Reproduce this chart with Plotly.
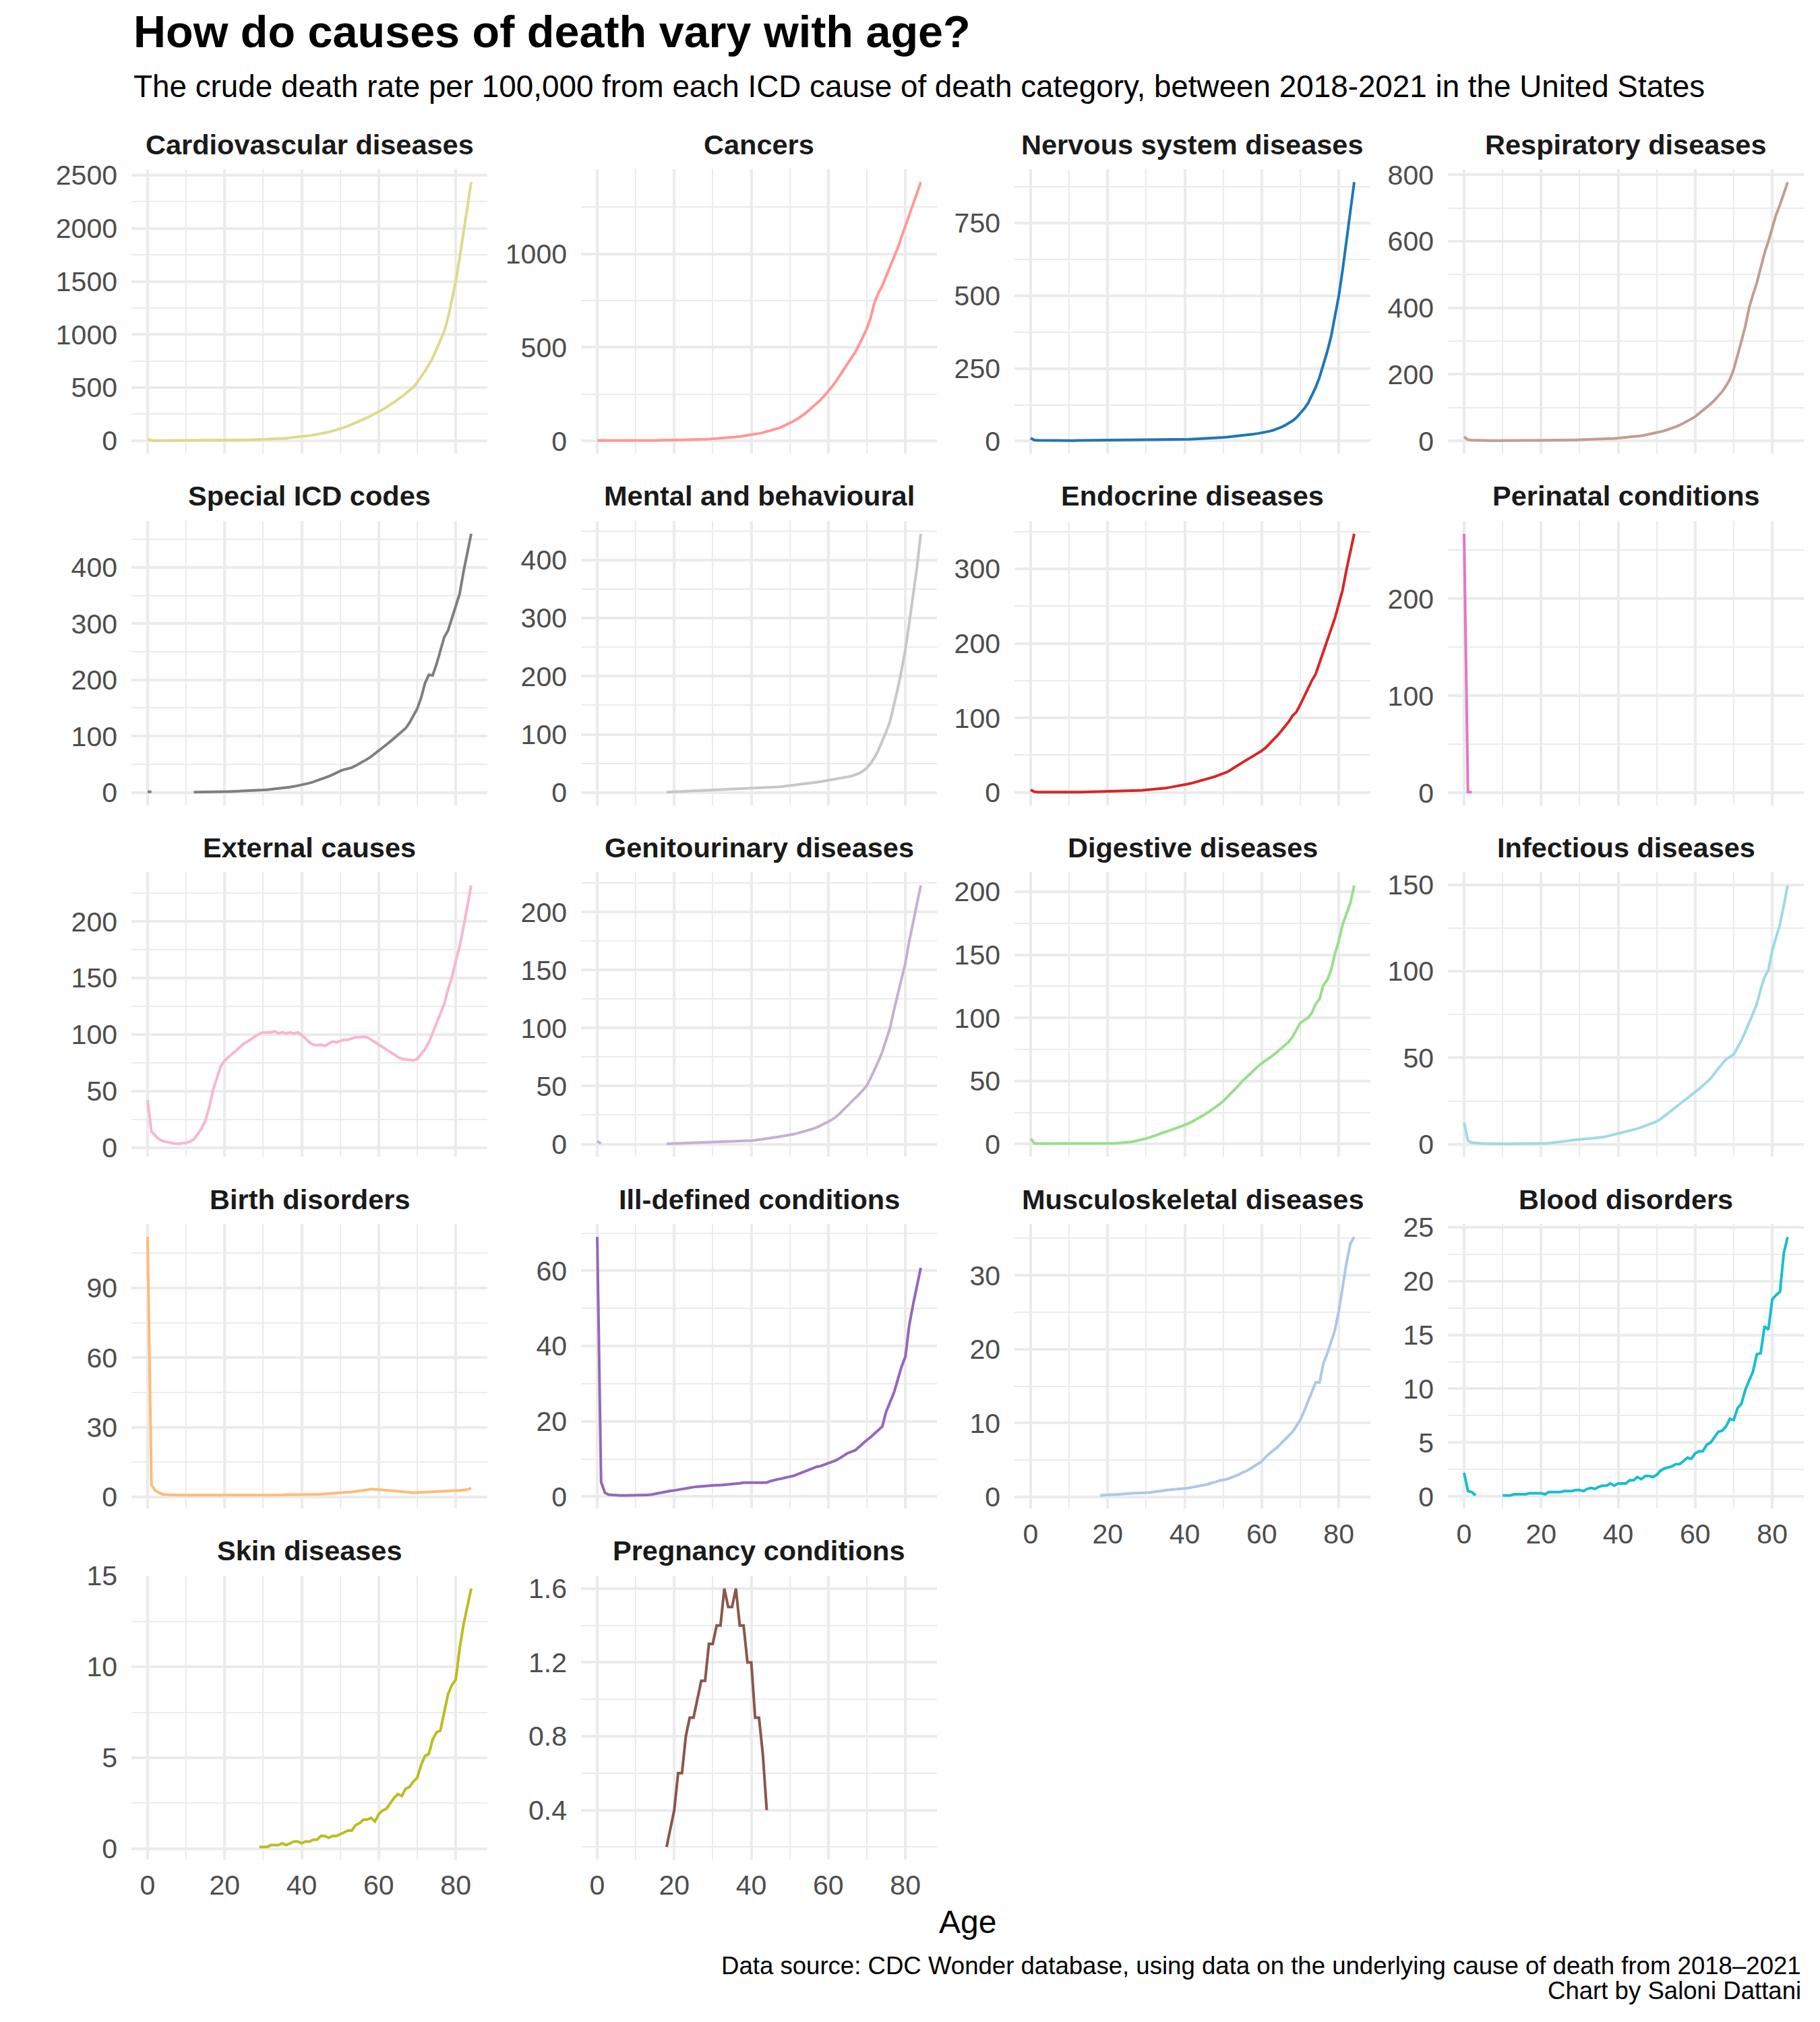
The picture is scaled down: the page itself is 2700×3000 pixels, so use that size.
import plotly.graph_objects as go

# ---------------- data ----------------
AGES = list(range(85))

CAUSES = [
    "Cardiovascular diseases", "Cancers", "Nervous system diseases", "Respiratory diseases",
    "Special ICD codes", "Mental and behavioural", "Endocrine diseases", "Perinatal conditions",
    "External causes", "Genitourinary diseases", "Digestive diseases", "Infectious diseases",
    "Birth disorders", "Ill-defined conditions", "Musculoskeletal diseases", "Blood disorders",
    "Skin diseases", "Pregnancy conditions",
]

CARDIOVASCULAR = [15, 2, 1, 1, 0.8, 0.7, 0.6, 0.6, 0.6, 0.6, 0.7, 0.8, 0.9, 1.1, 1.3, 1.6, 1.9, 2.2, 2.6, 3.0,
                  3.4, 3.9, 4.4, 5.0, 5.6, 6.3, 7.2, 8.1, 9.1, 10.3, 11.6, 13.0, 14.6, 16.4, 18.5, 20.8, 23.4, 26.3, 29.5, 33,
                  37, 42, 47, 53, 59, 66, 73, 81, 91, 101, 113, 125, 138, 153, 168, 184, 200, 217, 235, 253,
                  272, 293, 315, 338, 362, 388, 415, 443, 472, 505, 550, 600, 655, 715, 780, 860, 950, 1030, 1160, 1320,
                  1500, 1720, 1950, 2190, 2435]
CANCERS = [2.5, 2.3, 2.4, 2.5, 2.4, 2.3, 2.2, 2.1, 2.0, 2.0, 2.1, 2.2, 2.3, 2.5, 2.7, 3.0, 3.2, 3.4, 3.7, 3.9,
           4.2, 4.5, 4.9, 5.3, 5.8, 6.4, 7.1, 7.9, 8.8, 9.8, 11, 12.3, 13.8, 15.4, 17.2, 19.2, 21.3, 23.7, 26.3, 29.2,
           32.5, 36, 40, 44.5, 49.5, 55, 61, 68, 76, 85, 95, 106, 118, 132, 147, 165, 183, 201, 220, 242,
           265, 292, 320, 350, 380, 410, 440, 475, 515, 555, 600, 660, 740, 790, 830, 880, 930, 980, 1030, 1090,
           1150, 1200, 1260, 1320, 1383]
NERVOUS = [10, 3.5, 2.5, 2.2, 2.0, 1.9, 1.8, 1.7, 1.7, 1.7, 1.7, 1.8, 1.9, 2.0, 2.1, 2.2, 2.3, 2.4, 2.5, 2.5,
           2.6, 2.6, 2.7, 2.7, 2.8, 2.9, 3.0, 3.1, 3.2, 3.3, 3.5, 3.6, 3.8, 4.0, 4.2, 4.4, 4.6, 4.9, 5.2, 5.5,
           5.9, 6.3, 6.8, 7.3, 7.9, 8.5, 9.2, 10, 10.8, 11.7, 12.7, 13.8, 15, 16.3, 17.7, 19.2, 20.8, 22.5, 24.3, 26.2,
           28.3, 30.8, 33.8, 37.5, 42, 47.5, 54, 61.5, 70, 81, 95, 111, 130, 155, 185, 220, 262, 308, 360, 425,
           500, 590, 690, 790, 891]
RESPIRATORY = [12, 3.5, 2.2, 1.6, 1.3, 1.1, 1.0, 0.9, 0.9, 0.9, 0.9, 0.9, 1.0, 1.0, 1.1, 1.1, 1.2, 1.2, 1.3, 1.3,
               1.4, 1.5, 1.6, 1.7, 1.8, 2.0, 2.2, 2.4, 2.6, 2.8, 3.1, 3.4, 3.7, 4.1, 4.5, 5.0, 5.5, 6.1, 6.8, 7.5,
               8.3, 9.2, 10.2, 11.3, 12.6, 14, 15.7, 17.6, 19.7, 22, 24.6, 27.5, 30.7, 34.2, 38, 42.5, 47.5, 53, 59.5, 66,
               73, 82, 92, 101, 111, 122, 134, 148, 165, 185, 215, 255, 300, 345, 400, 440, 475, 520, 565, 600,
               640, 680, 710, 745, 778]
SPECIAL_ICD = [1, 1, None, None, None, None, None, None, None, None, None, None, 0.3, 0.3, 0.4, 0.5, 0.6, 0.7, 0.9, 1.0,
               1.2, 1.4, 1.6, 1.8, 2.0, 2.3, 2.6, 2.9, 3.3, 3.7, 4.2, 4.7, 5.3, 6.0, 6.7, 7.5, 8.4, 9.4, 10.5, 11.8,
               13.2, 14.8, 16.5, 18.5, 20.8, 23.2, 25.5, 28.5, 31.5, 35, 38, 40.5, 42.5, 44, 47.5, 51, 55, 59, 63.5, 68.5,
               74, 79.5, 85, 90.5, 96, 102, 108, 114, 124, 136, 149, 168, 194, 209, 208, 228, 254, 276, 288, 310,
               331, 353, 392, 426, 460]
MENTAL = [None] * 18 + [0.5, 0.8,
          1.0, 1.3, 1.6, 1.9, 2.2, 2.5, 2.8, 3.1, 3.4, 3.8, 4.2, 4.5, 4.8, 5.1, 5.3, 5.5, 5.7, 5.8, 6.0, 6.1,
          6.3, 6.6, 6.9, 7.3, 7.8, 8.3, 8.9, 9.5, 10.2, 10.9, 11.7, 12.4, 13.2, 14.0, 14.9, 15.8, 16.7, 17.6, 18.6, 19.6,
          20.7, 21.8, 23.0, 24.2, 25.5, 26.8, 28.2, 30, 33, 37, 42, 50, 60, 73, 88, 104, 122, 148, 178, 210,
          246, 291, 337, 387, 445]
ENDOCRINE = [3.5, 1.0, 0.6, 0.5, 0.4, 0.4, 0.4, 0.4, 0.4, 0.4, 0.4, 0.4, 0.5, 0.5, 0.6, 0.6, 0.7, 0.8, 0.9, 1.0,
             1.1, 1.2, 1.3, 1.5, 1.7, 1.9, 2.1, 2.4, 2.7, 3.0, 3.4, 3.8, 4.3, 4.8, 5.4, 6.0, 6.7, 7.5, 8.4, 9.4,
             10.5, 11.6, 12.8, 14.1, 15.5, 17, 18.5, 20, 21.7, 23.4, 25.2, 27.5, 30.5, 34, 37, 40.5, 43.5, 46.5, 49.5, 52.5,
             56, 60, 65, 70, 76, 82, 88, 95, 103, 108, 118, 129, 140, 150, 159, 173, 189, 204, 219, 234,
             253, 272, 299, 322, 347]
PERINATAL = [267, 0.8, 0.8] + [None] * 82
EXTERNAL = [42, 14, 10.6, 7.4, 5.7, 4.9, 4.0, 3.6, 3.4, 3.6, 4.2, 5.3, 7.4, 11.7, 17, 24, 36, 51, 62, 72,
            77, 80, 83, 86, 89, 92, 94, 96.5, 98.6, 100.7, 101.8, 102, 102, 103, 101, 102, 101, 102, 101, 102,
            99.7, 96.5, 93, 91, 90.6, 91, 90, 92, 94, 93, 94, 95.4, 95.4, 96.5, 97.6, 97.6, 98, 97.6, 95.4, 93,
            90.8, 89, 87, 84.8, 82.7, 80.2, 78.5, 78, 77.4, 77, 78.5, 82.7, 87, 93, 101.8, 110, 118.8, 127, 140, 150.6,
            165, 178, 195, 212, 232]
GENITOURINARY = [2.5, 0.5] + [None] * 16 + [0.3, 0.4,
                 0.5, 0.6, 0.7, 0.8, 0.9, 1.0, 1.1, 1.2, 1.4, 1.5, 1.7, 1.8, 1.9, 2.0, 2.2, 2.3, 2.4, 2.6, 2.8, 2.9,
                 3.1, 3.4, 3.8, 4.2, 4.7, 5.2, 5.7, 6.2, 6.8, 7.3, 7.9, 8.6, 9.4, 10.2, 11.1, 12, 13.2, 14.5, 16, 17.6,
                 19.3, 21.3, 23.4, 26.5, 29.7, 32.8, 36, 39.5, 43, 46.5, 50.4, 57, 64, 71.5, 79.5, 89, 100, 115, 129, 144,
                 156, 175, 191.5, 206, 223]
DIGESTIVE = [4.4, 0.6, 0.3, 0.3, 0.2, 0.2, 0.2, 0.2, 0.2, 0.2, 0.2, 0.2, 0.2, 0.2, 0.2, 0.3, 0.3, 0.3, 0.3, 0.4,
             0.4, 0.5, 0.6, 0.8, 1.0, 1.3, 1.7, 2.2, 2.8, 3.5, 4.4, 5.3, 6.3, 7.3, 8.4, 9.5, 10.6, 11.7, 12.8, 13.9,
             15, 16.4, 17.9, 19.5, 21.2, 23, 25, 27, 29.2, 31.5, 34, 37, 40, 43, 46.5, 50, 53, 56, 59, 61.5,
             64, 66, 68, 70.5, 73, 75.5, 78, 81, 85, 90, 96, 98, 100, 104, 111, 115, 126, 130, 138, 151,
             161, 174, 183, 191, 205]
INFECTIOUS = [12.5, 2.0, 1.0, 0.7, 0.5, 0.4, 0.4, 0.3, 0.3, 0.3, 0.3, 0.3, 0.3, 0.3, 0.3, 0.3, 0.3, 0.3, 0.3, 0.3,
              0.4, 0.5, 0.7, 0.9, 1.1, 1.4, 1.7, 2.0, 2.3, 2.6, 2.8, 3.0, 3.2, 3.4, 3.6, 3.8, 4.2, 4.6, 5.1, 5.6,
              6.2, 6.7, 7.2, 7.8, 8.4, 9.0, 9.8, 10.6, 11.4, 12.3, 13.2, 14.6, 16.2, 18, 19.7, 21.5, 23.2, 25, 26.7, 28.4,
              30, 32, 34, 36, 38, 41, 44, 46.5, 49, 50.5, 52, 56, 60, 65, 70, 75.5, 81, 89.6, 96.5, 100.7,
              112, 120, 127, 138, 149.6]
BIRTH = [112, 5.2, 2.8, 1.8, 1.2, 1.0, 0.9, 0.9, 0.8, 0.8, 0.8, 0.8, 0.8, 0.8, 0.8, 0.9, 0.8, 0.9, 0.8, 0.7,
         0.9, 0.8, 0.9, 0.7, 0.9, 0.8, 0.9, 0.8, 0.8, 0.9, 0.9, 0.8, 0.9, 0.9, 0.9, 0.9, 1.0, 0.9, 1.0, 1.0,
         1.0, 1.0, 1.1, 1.1, 1.2, 1.2, 1.3, 1.4, 1.5, 1.6, 1.8, 2.0, 2.1, 2.2, 2.4, 2.6, 2.7, 3.1, 3.4, 3.3,
         3.1, 3.2, 2.9, 2.8, 2.6, 2.4, 2.2, 2.0, 1.8, 1.8, 1.9, 2.0, 2.0, 2.2, 2.4, 2.5, 2.6, 2.5, 2.6, 2.7,
         2.8, 2.8, 2.9, 3.2, 3.8]
ILL_DEFINED = [69, 3.9, 1.0, 0.5, 0.4, 0.3, 0.3, 0.3, 0.3, 0.3, 0.3, 0.3, 0.3, 0.4, 0.5, 0.7, 0.9, 1.2, 1.4, 1.5,
               1.6, 1.8, 2.0, 2.2, 2.3, 2.5, 2.6, 2.7, 2.8, 2.9, 2.9, 3.0, 3.0, 3.1, 3.1, 3.2, 3.3, 3.5, 3.7, 3.7,
               3.7, 3.7, 3.6, 3.7, 3.7, 4.1, 4.4, 4.6, 4.8, 5.0, 5.2, 5.5, 5.9, 6.3, 6.7, 7.1, 7.5, 7.9, 8.1, 8.5,
               8.8, 9.2, 9.6, 10.2, 10.9, 11.5, 11.9, 12.3, 13.2, 14.2, 15, 15.8, 16.7, 17.8, 18.6, 22.5, 25, 27.5, 31, 34.5,
               37.2, 45.5, 51, 56, 60.8]
MUSCULOSKELETAL = [None] * 18 + [0.2, 0.25,
                   0.25, 0.3, 0.3, 0.35, 0.4, 0.4, 0.45, 0.5, 0.5, 0.5, 0.55, 0.6, 0.65, 0.7, 0.8, 0.9, 0.95, 1.0, 1.05, 1.1,
                   1.1, 1.2, 1.3, 1.4, 1.5, 1.6, 1.7, 1.9, 2.0, 2.2, 2.3, 2.4, 2.6, 2.8, 3.0, 3.3, 3.5, 3.8, 4.1, 4.5,
                   4.8, 5.4, 5.9, 6.3, 6.7, 7.2, 7.7, 8.2, 8.8, 9.6, 10.4, 11.6, 12.9, 14.2, 15.5, 15.5, 18.1, 19.4, 21, 22.6,
                   25.2, 28.5, 31.7, 34.3, 35.2]
BLOOD = [2.2, 0.5, 0.4, 0.1, None, None, None, None, None, None, 0.1, 0.1, 0.1, 0.2, 0.2, 0.2, 0.2, 0.3, 0.3, 0.3,
         0.3, 0.2, 0.4, 0.4, 0.4, 0.4, 0.5, 0.5, 0.5, 0.6, 0.6, 0.5, 0.7, 0.8, 0.7, 0.9, 1.0, 1.0, 1.2, 1.0,
         1.2, 1.2, 1.2, 1.5, 1.5, 1.8, 1.6, 1.9, 1.9, 1.8, 2.0, 2.4, 2.6, 2.7, 2.8, 3.0, 3.0, 3.3, 3.6, 3.5,
         4.0, 4.2, 4.2, 4.8, 5.0, 5.5, 6.0, 6.1, 6.5, 7.2, 7.1, 8.2, 8.6, 9.9, 10.8, 11.6, 13.2, 13.3, 15.8, 15.5,
         18.3, 18.7, 19.0, 22.6, 24.1]
SKIN = [None] * 29 + [0.1,
        0.1, 0.1, 0.2, 0.2, 0.2, 0.3, 0.2, 0.3, 0.4, 0.4,
        0.3, 0.4, 0.4, 0.5, 0.5, 0.7, 0.7, 0.6, 0.7, 0.7, 0.8, 0.9, 1.0, 1.0, 1.3, 1.4, 1.6, 1.6, 1.7, 1.5,
        1.9, 2.1, 2.2, 2.5, 2.8, 3.0, 2.9, 3.3, 3.4, 3.7, 3.9, 4.6, 5.1, 5.2, 6.0, 6.4, 6.5, 7.5, 8.5, 9.0,
        9.3, 11.0, 12.3, 13.3, 14.3]
PREGNANCY = [None] * 18 + [0.2, 0.3,
             0.4, 0.6, 0.6, 0.8, 0.9, 0.9, 1.0, 1.1, 1.1, 1.3, 1.3, 1.4, 1.4, 1.6, 1.5, 1.5, 1.6, 1.4, 1.4, 1.2,
             1.2, 0.9, 0.9, 0.7, 0.4] + [None] * 40

SERIES = [CARDIOVASCULAR, CANCERS, NERVOUS, RESPIRATORY, SPECIAL_ICD, MENTAL, ENDOCRINE, PERINATAL,
          EXTERNAL, GENITOURINARY, DIGESTIVE, INFECTIOUS, BIRTH, ILL_DEFINED, MUSCULOSKELETAL, BLOOD,
          SKIN, PREGNANCY]

X_TICK_STEP, X_MINOR_STEP = 20, 10
Y_TICK_STEP = [500, 500, 250, 200, 100, 100, 100, 100, 50, 50, 50, 50, 30, 20, 10, 5, 5, 0.4]

TITLE = "How do causes of death vary with age?"
SUBTITLE = ("The crude death rate per 100,000 from each ICD cause of death category, "
            "between 2018-2021 in the United States")
X_TITLE = "Age"
CAPTION_1 = "Data source: CDC Wonder database, using data on the underlying cause of death from 2018\u20132021"
CAPTION_2 = "Chart by Saloni Dattani"

# ---------------- styles ----------------
COLORS = ["#dbdb8d", "#ff9896", "#1f77b4", "#c49c94", "#7f7f7f", "#c7c7c7", "#d62728", "#e377c2",
          "#f7b6d2", "#c5b0d5", "#98df8a", "#9edae5", "#ffbb78", "#9467bd", "#aec7e8", "#17becf",
          "#bcbd22", "#8c564b"]

W, H = 2700, 3000
FONT = "Liberation Sans, Arial, Helvetica, sans-serif"
COL_LEFT = [195, 862, 1505, 2148]
PANEL_W = 528
ROW_TOP = [251, 773, 1295, 1817, 2339]
PANEL_H = 422
GRID = "#ebebeb"
TICK_COLOR = "#4d4d4d"
TICK_SIZE = 41
LINE_W = 4

# page offset compensation (measured in the rendered output)
X_SHIFT = 8
Y_SHIFT, Y_SCALE = 30, 0.99


def px_x(p):
    return (p - X_SHIFT) / W


def px_y(p):
    return 1 - (p / Y_SCALE - Y_SHIFT) / H


def padded(vals):
    v = [a for a in vals if a is not None]
    lo, hi = min(v), max(v)
    pad = 0.05 * (hi - lo)
    return [lo - pad, hi + pad]


fig = go.Figure()
annotations = []
x_range = padded(AGES)
bottom_panels = {14, 15, 16, 17}

for i, (name, vals, color) in enumerate(zip(CAUSES, SERIES, COLORS)):
    r, c = divmod(i, 4)
    n = i + 1
    xs = "x" if n == 1 else f"x{n}"
    ys = "y" if n == 1 else f"y{n}"
    fig.add_trace(go.Scatter(x=AGES, y=vals, mode="lines", xaxis=xs, yaxis=ys,
                             line=dict(color=color, width=LINE_W), connectgaps=False,
                             showlegend=False, hoverinfo="skip"))
    left = COL_LEFT[c]
    top = ROW_TOP[r]
    step = Y_TICK_STEP[i]
    xa = dict(domain=[px_x(left), px_x(left + PANEL_W)], anchor=ys, range=x_range,
              tick0=0, dtick=X_TICK_STEP, showgrid=True, gridcolor=GRID, gridwidth=3.5,
              zeroline=False, showline=False, ticks="",
              showticklabels=(i in bottom_panels), ticklabelstandoff=10,
              tickfont=dict(family=FONT, size=TICK_SIZE, color=TICK_COLOR),
              minor=dict(tick0=0, dtick=X_MINOR_STEP, showgrid=True, gridcolor=GRID, gridwidth=2, ticks=""),
              fixedrange=True)
    ya = dict(domain=[px_y(top + PANEL_H), px_y(top)], anchor=xs, range=padded(vals),
              tick0=0, dtick=step, showgrid=True, gridcolor=GRID, gridwidth=4,
              zeroline=False, showline=False, ticks="", ticklabelstandoff=20,
              tickfont=dict(family=FONT, size=TICK_SIZE, color=TICK_COLOR),
              minor=dict(tick0=0, dtick=step / 2, showgrid=True, gridcolor=GRID, gridwidth=2, ticks=""),
              fixedrange=True)
    fig.layout["xaxis" if n == 1 else f"xaxis{n}"] = xa
    fig.layout["yaxis" if n == 1 else f"yaxis{n}"] = ya
    annotations.append(dict(text=f"<b>{name}</b>", x=px_x(left + PANEL_W / 2), y=px_y(top - 37),
                            xref="paper", yref="paper", xanchor="center", yanchor="middle",
                            showarrow=False, font=dict(family=FONT, size=41.5, color="#1a1a1a")))

annotations += [
    dict(text=f"<b>{TITLE}</b>", x=px_x(196), y=px_y(47), xref="paper", yref="paper",
         xanchor="left", yanchor="middle", showarrow=False, font=dict(family=FONT, size=66.5, color="black")),
    dict(text=SUBTITLE, x=px_x(196), y=px_y(128), xref="paper", yref="paper",
         xanchor="left", yanchor="middle", showarrow=False, font=dict(family=FONT, size=45.8, color="black")),
    dict(text=X_TITLE, x=px_x((COL_LEFT[0] + COL_LEFT[3] + PANEL_W) / 2), y=px_y(2853), xref="paper", yref="paper",
         xanchor="center", yanchor="middle", showarrow=False, font=dict(family=FONT, size=48, color="black")),
    dict(text=CAPTION_1, x=px_x(2674), y=px_y(2918), xref="paper", yref="paper",
         xanchor="right", yanchor="middle", showarrow=False, font=dict(family=FONT, size=36.6, color="black")),
    dict(text=CAPTION_2, x=px_x(2674), y=px_y(2955), xref="paper", yref="paper",
         xanchor="right", yanchor="middle", showarrow=False, font=dict(family=FONT, size=36.6, color="black")),
]

fig.update_layout(width=W, height=H, autosize=False,
                  margin=dict(l=0, r=0, t=0, b=0, pad=0),
                  paper_bgcolor="white", plot_bgcolor="white",
                  annotations=annotations, showlegend=False,
                  font=dict(family=FONT))

fig.write_html("out.html", config={"displayModeBar": False})
